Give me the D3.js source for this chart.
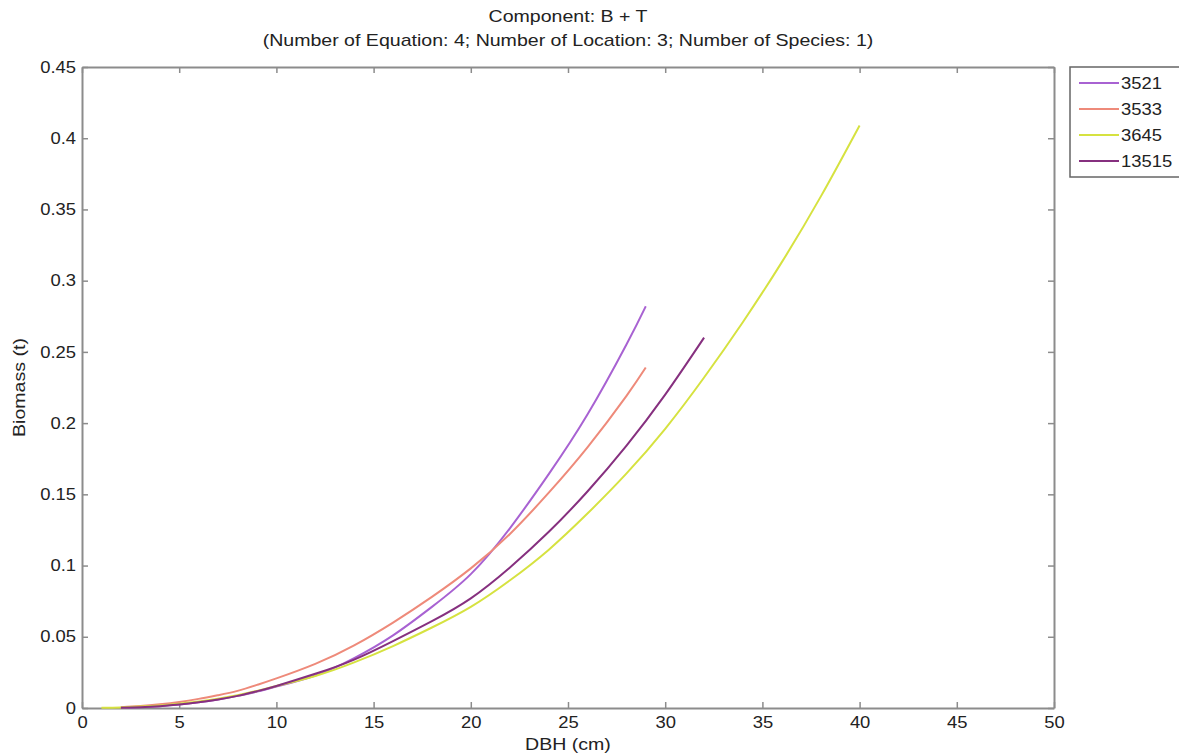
<!DOCTYPE html>
<html>
<head>
<meta charset="utf-8">
<script src="https://cdn.jsdelivr.net/npm/d3@7"></script>
<style>
body { margin: 0; background: #fff; }
text { font-family: "Liberation Sans", Arial, sans-serif; fill: #222; }
</style>
</head>
<body>
<div class="chart"></div>
<script>
// series (DBH cm -> biomass t)
var dbh3521 = [2, 3, 4, 5, 6, 7, 8, 9, 10, 12, 14, 16, 18, 20, 22, 24, 26, 28, 29];
var bio3521 = [0.0002, 0.0006, 0.0013, 0.0024, 0.004, 0.006, 0.0085, 0.0115, 0.015, 0.0228, 0.0350, 0.0510, 0.0710, 0.0940, 0.1260, 0.1640, 0.2060, 0.2550, 0.2820];

var dbh3533 = [2, 3, 4, 5, 6, 7, 8, 9, 10, 12, 14, 16, 18, 20, 22, 24, 26, 28, 29];
var bio3533 = [0.0006, 0.0014, 0.0026, 0.0042, 0.0064, 0.009, 0.012, 0.0162, 0.0208, 0.031, 0.044, 0.060, 0.078, 0.098, 0.122, 0.151, 0.183, 0.219, 0.239];

var dbh3645 = [1, 2, 3, 4, 5, 6, 7, 8, 9, 10, 12, 14, 16, 18, 20, 22, 24, 26, 28, 30, 32, 34, 36, 38, 40];
var bio3645 = [0.0001, 0.0004, 0.001, 0.0018, 0.003, 0.0045, 0.0065, 0.009, 0.012, 0.0155, 0.0225, 0.032, 0.0435, 0.0565, 0.071, 0.0895, 0.111, 0.1365, 0.1645, 0.196, 0.232, 0.271, 0.313, 0.359, 0.409];

var dbh13515 = [2, 3, 4, 5, 6, 7, 8, 9, 10, 12, 14, 16, 18, 20, 22, 24, 26, 28, 30, 32];
var bio13515 = [0.0002, 0.0006, 0.0013, 0.0024, 0.004, 0.006, 0.0085, 0.0118, 0.0155, 0.024, 0.034, 0.047, 0.061, 0.077, 0.0985, 0.1235, 0.152, 0.184, 0.220, 0.260];

var seriesNames = ['3521', '3533', '3645', '13515'];
var seriesColors = ['#a862d2', '#ee8a7a', '#d6e240', '#86307f'];
var xTicks = [0, 5, 10, 15, 20, 25, 30, 35, 40, 45, 50];
var yTicks = [0, 0.05, 0.1, 0.15, 0.2, 0.25, 0.3, 0.35, 0.4, 0.45];

var W = 1179, H = 755;
var plotLeft = 82, plotRight = 1054, plotTop = 67, plotBottom = 708;

var svg = d3.select('.chart').append('svg')
	.attr('width', W)
	.attr('height', H);

var x = d3.scaleLinear().domain([0, 50]).range([plotLeft, plotRight]);
var y = d3.scaleLinear().domain([0, 0.45]).range([plotBottom, plotTop]);

var axisColor = '#8c8c8c';

/*--------------------------- AXES ---------------------------*/

var xAxis = svg.append('g')
	.attr('transform', 'translate(0,' + plotBottom + ')')
	.call(d3.axisBottom(x).tickValues(xTicks).tickSizeInner(-6).tickSizeOuter(0).tickPadding(9).tickFormat(d3.format('d')));

var xTop = svg.append('g')
	.attr('transform', 'translate(0,' + plotTop + ')')
	.call(d3.axisTop(x).tickValues(xTicks).tickSizeInner(-6).tickSizeOuter(0).tickFormat(''));

var yAxis = svg.append('g')
	.attr('transform', 'translate(' + plotLeft + ',0)')
	.call(d3.axisLeft(y).tickValues(yTicks).tickSizeInner(-6).tickSizeOuter(0).tickPadding(6).tickFormat(function(d){ return d === 0 ? '0' : String(+d.toFixed(2)); }));

var yRight = svg.append('g')
	.attr('transform', 'translate(' + plotRight + ',0)')
	.call(d3.axisRight(y).tickValues(yTicks).tickSizeInner(-6).tickSizeOuter(0).tickFormat(''));

[xAxis, xTop, yAxis, yRight].forEach(function(g){
	g.select('.domain').attr('stroke', axisColor).attr('stroke-width', 2);
	g.selectAll('.tick line').attr('stroke', axisColor).attr('stroke-width', 1.5);
	g.selectAll('.tick text').style('font-size', '16px').style('fill', '#222');
});

/*--------------------------- CURVES ---------------------------*/

var allDbh = [dbh3521, dbh3533, dbh3645, dbh13515];
var allBio = [bio3521, bio3533, bio3645, bio13515];

var line = d3.line()
	.x(function(d){ return x(d[0]); })
	.y(function(d){ return y(d[1]); })
	.curve(d3.curveNatural);

seriesNames.forEach(function(name, i){
	var pts = d3.zip(allDbh[i], allBio[i]);
	svg.append('path')
		.datum(pts)
		.attr('d', line)
		.attr('fill', 'none')
		.attr('stroke', seriesColors[i])
		.attr('stroke-width', 2);
});

/*--------------------------- TEXT ---------------------------*/

var cx = (plotLeft + plotRight) / 2;

svg.append('text')
	.attr('x', cx).attr('y', 22)
	.attr('text-anchor', 'middle')
	.style('font-size', '17px')
	.text('Component: B + T');

svg.append('text')
	.attr('x', cx).attr('y', 46)
	.attr('text-anchor', 'middle')
	.style('font-size', '17px')
	.text('(Number of Equation: 4; Number of Location: 3; Number of Species: 1)');

svg.append('text')
	.attr('x', cx).attr('y', 750)
	.attr('text-anchor', 'middle')
	.style('font-size', '17px')
	.text('DBH (cm)');

svg.append('text')
	.attr('transform', 'translate(25,' + ((plotTop + plotBottom) / 2) + ') rotate(-90)')
	.attr('text-anchor', 'middle')
	.style('font-size', '17px')
	.text('Biomass (t)');

/*--------------------------- LEGEND ---------------------------*/

var legend = svg.append('g').attr('transform', 'translate(1070,67)');

legend.append('rect')
	.attr('x', 0).attr('y', 0)
	.attr('width', 115).attr('height', 110)
	.attr('fill', '#fff')
	.attr('stroke', '#666')
	.attr('stroke-width', 1.5);

var items = legend.selectAll('.item').data(seriesNames)
	.enter().append('g')
	.attr('transform', function(d, i){ return 'translate(0,' + (16 + i * 26) + ')'; });

items.append('line')
	.attr('x1', 9).attr('x2', 49)
	.attr('y1', 0).attr('y2', 0)
	.attr('stroke', function(d, i){ return seriesColors[i]; })
	.attr('stroke-width', 2);

items.append('text')
	.attr('x', 51).attr('y', 6)
	.style('font-size', '16px')
	.text(function(d){ return d; });

// the reference lettering is a little wider than Liberation Sans
svg.selectAll('text').each(function(){
	var len = this.getComputedTextLength();
	if (len > 0) d3.select(this).attr('textLength', len * 1.15).attr('lengthAdjust', 'spacingAndGlyphs');
});
</script>
</body>
</html>
